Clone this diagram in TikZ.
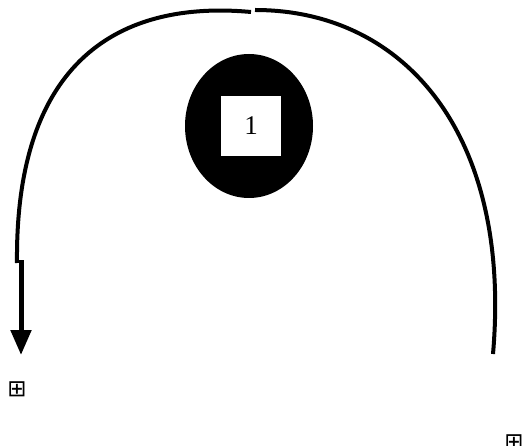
\documentclass[tikz,border=0pt]{standalone}
\usepackage{fontspec}
\setmainfont{Liberation Serif}
\newfontfamily\symfont{DejaVu Sans}
\usetikzlibrary{arrows.meta,positioning,shapes.geometric}

\tikzset{
  wire/.style={line width=4pt},
  endmark/.style={font=\symfont\fontsize{23}{23}\selectfont,inner sep=0pt}
}

\begin{document}
\begin{tikzpicture}[x=1pt,y=-1pt]
	\useasboundingbox (0,0) rectangle (524,446);
	
	% --- black ellipse with the white square ---
	\node[ellipse,fill=black,minimum width=128pt,minimum height=144pt,inner sep=0pt] (body) at (249,126) {};
	\node[fill=white,minimum size=60pt,inner sep=0pt,font=\fontsize{27}{27}\selectfont] (one) at (251,126) {1};
	
	% --- end marks ---
	\node[endmark] (lmark) at (17,389) {⊞};
	\node[endmark] (rmark) at (514,442) {⊞};
	
	% free ends of the loop
	\coordinate (rend) at (493,354);
	\coordinate (rtop) at (255,10);
	\coordinate (ltop) at (251,12);
	\coordinate (lend) at (17,263);
	\coordinate (ljog) at (21,260);
	\coordinate (ltip) at (21,355);
	
	% --- the loop over the top ---
	\draw[wire] (rend) .. controls (512,135) and (405,10) .. (rtop);   % right half
	\draw[wire] (ltop) .. controls (120,0) and (15,60) .. (lend);       % left half
	\draw[wire,line width=5pt,-{Triangle[length=25pt,width=20pt]}] (ljog) -- (ltip);
	
\end{tikzpicture}
\end{document}
